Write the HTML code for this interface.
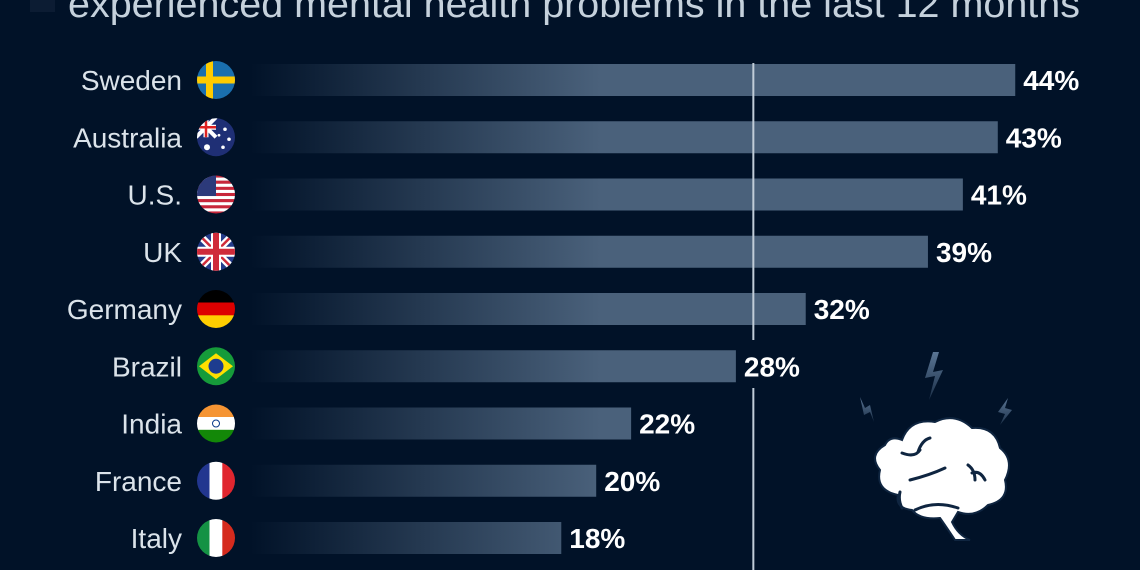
<!DOCTYPE html>
<html><head><meta charset="utf-8">
<style>
html,body{margin:0;padding:0;background:#011228;}
svg{display:block;font-family:"Liberation Sans",sans-serif;}
</style></head>
<body>
<svg id="chart" width="1140" height="570" viewBox="0 0 1140 570" xmlns="http://www.w3.org/2000/svg">
<defs>
<linearGradient id="barGrad" gradientUnits="userSpaceOnUse" x1="250" y1="0" x2="600" y2="0">
<stop offset="0" stop-color="#4a617b" stop-opacity="0"/>
<stop offset="1" stop-color="#4a617b" stop-opacity="1"/>
</linearGradient>
<linearGradient id="boltGrad" x1="0" y1="0" x2="0" y2="1">
<stop offset="0" stop-color="#5a7594"/><stop offset="1" stop-color="#5a7594" stop-opacity="0.3"/>
</linearGradient>
<clipPath id="fc"><circle cx="0" cy="0" r="19"/></clipPath>
</defs>
<rect width="1140" height="570" fill="#011228"/>
<rect x="30" y="-10" width="25" height="22" fill="#0c1c33"/>
<text x="68" y="17" font-size="38" textLength="1012" lengthAdjust="spacingAndGlyphs" fill="#c5d1dc">experienced mental health problems in the last 12 months</text>
<g id="bars"></g>
<g transform="translate(840,340)">
<path d="M93,12 L85,38 L95,36 L89,60 L103,30 L93,32 L99,12Z" fill="url(#boltGrad)"/>
<path d="M20,57 L24,75 L30,72 L34,82 L30,65 L25,68Z" fill="url(#boltGrad)"/>
<path d="M168,58 L158,72 L165,74 L160,85 L172,70 L165,68Z" fill="url(#boltGrad)"/>
<path d="M62,100 Q70,78 95,82 Q115,72 132,88 Q155,86 160,108 Q175,120 165,140 Q170,160 148,165 Q135,178 118,172 L112,182 Q118,195 130,200 L115,200 Q105,185 100,178 Q80,180 72,170 Q55,168 58,155 Q35,150 40,130 Q28,115 45,105 Q50,95 62,100Z" fill="#fff" stroke="#0f2540" stroke-width="2"/>
<path d="M62,113 Q75,118 80,110 M78,112 Q82,100 90,98 M70,140 Q90,135 105,128 M128,125 Q135,130 135,140 M132,133 Q140,130 145,140 M60,152 Q58,160 62,168 M75,170 Q95,160 118,168" fill="none" stroke="#0f2540" stroke-width="3" stroke-linecap="round"/>
</g>
</svg>
<script>
const countries = ["Sweden","Australia","U.S.","UK","Germany","Brazil","India","France","Italy"];
const values = [44,43,41,39,32,28,22,20,18];
const refValue = 29;
const flags = ["se","au","us","uk","de","br","in","fr","it"];

const NS="http://www.w3.org/2000/svg";
const x0=247, pxPer=17.46, y0=80, step=57.25, bh=32;
const xs=v=>x0+v*pxPer;
const ys=i=>y0+i*step;
const g=document.getElementById('bars');
function mk(tag,attrs,parent){const e=document.createElementNS(NS,tag);for(const k in attrs)e.setAttribute(k,attrs[k]);(parent||g).appendChild(e);return e;}
function flag(code,cx,cy){
  const fg=mk('g',{transform:`translate(${cx},${cy})`});
  
  
  const c=mk('g',{'clip-path':'url(#fc)'},fg);
  const R=(x,y,w,h,f)=>mk('rect',{x,y,width:w,height:h,fill:f},c);
  if(code==='se'){R(-20,-20,40,40,'#1a6fae');R(-10,-20,7,40,'#fecb00');R(-20,-3.5,40,7,'#fecb00');}
  else if(code==='au'){R(-20,-20,40,40,'#1f2f75');mk('path',{d:'M-20,-20L0,0M0,-20L-20,0',stroke:'#fff','stroke-width':4},c);mk('path',{d:'M-10,-20V0M-20,-10H0',stroke:'#fff','stroke-width':5},c);mk('path',{d:'M-10,-20V0M-20,-10H0',stroke:'#d22',"stroke-width":2.5},c);[[-9,10,3],[9,-8,1.8],[13,2,1.8],[7,10,1.8],[3,-2,1.4]].forEach(s=>mk('circle',{cx:s[0],cy:s[1],r:s[2],fill:'#fff'},c));}
  else if(code==='us'){for(let i=0;i<13;i++)R(-20,-20+i*40/13,40,40/13+0.2,i%2?'#fff':'#c8263a');R(-20,-20,20,21.5,'#2c3a7a');}
  else if(code==='uk'){R(-20,-20,40,40,'#243b8a');mk('path',{d:'M-20,-20L20,20M20,-20L-20,20',stroke:'#fff','stroke-width':7},c);mk('path',{d:'M-20,-20L20,20M20,-20L-20,20',stroke:'#cf2b3a','stroke-width':2.5},c);mk('path',{d:'M0,-20V20M-20,0H20',stroke:'#fff','stroke-width':10},c);mk('path',{d:'M0,-20V20M-20,0H20',stroke:'#cf2b3a','stroke-width':6},c);}
  else if(code==='de'){R(-20,-20,40,14,'#000');R(-20,-6.5,40,13,'#dd0000');R(-20,6.3,40,14,'#ffce00');}
  else if(code==='br'){R(-20,-20,40,40,'#169b3a');mk('path',{d:'M-17,0L0,-13L17,0L0,13Z',fill:'#fedf00'},c);mk('circle',{r:7.5,fill:'#1d3c8f'},c);}
  else if(code==='in'){R(-20,-20,40,14,'#f59433');R(-20,-6.5,40,13,'#fff');R(-20,6.3,40,14,'#138808');mk('circle',{r:3.5,fill:'none',stroke:'#0a3a8a','stroke-width':1},c);}
  else if(code==='fr'){R(-20,-20,14,40,'#22368f');R(-6.5,-20,13,40,'#fff');R(6.3,-20,14,40,'#e0262f');}
  else if(code==='it'){R(-20,-20,14,40,'#149244');R(-6.5,-20,13,40,'#fff');R(6.3,-20,14,40,'#d52b1e');}
}
countries.forEach((c,i)=>{
  const cy=ys(i);
  const bar=mk('rect',{x:250,y:cy-bh/2,width:xs(values[i])-250,height:bh,fill:'url(#barGrad)'});
  
  
  const lab=mk('text',{x:182,y:cy+10,'text-anchor':'end','font-size':28,fill:'#dbe3ea'});
  lab.textContent=c;
  
  
  flag(flags[i],216,cy);
  const vl=mk('text',{x:xs(values[i])+8,y:cy+10,'font-size':28,'font-weight':'bold',fill:'#fff'});
  vl.textContent=values[i]+'%';
  
  
});
const rx=xs(refValue);
const l1=mk('line',{x1:rx,x2:rx,y1:63,y2:340,stroke:'#c0ccd8','stroke-width':2});


const l2=mk('line',{x1:rx,x2:rx,y1:388,y2:570,stroke:'#c0ccd8','stroke-width':2});


</script>
</body></html>
